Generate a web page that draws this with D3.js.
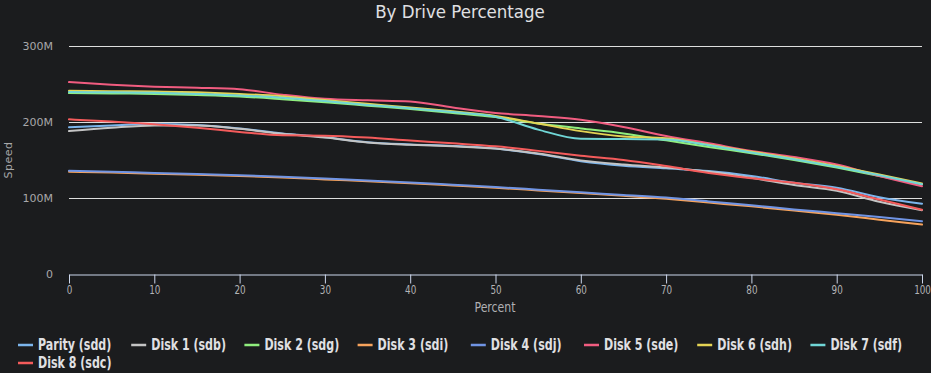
<!DOCTYPE html>
<html>
<head>
<meta charset="utf-8">
<script src="https://cdn.jsdelivr.net/npm/d3@7"></script>
<style>
  html, body { margin: 0; padding: 0; background: #1b1c1e; }
  svg { display: block; }
  .cond { font-family: "Liberation Sans Narrow", "DejaVu Sans Condensed", "DejaVu Sans", sans-serif; font-stretch: condensed; }
</style>
</head>
<body>
<svg id="chart" width="931" height="373"></svg>
<script>
// ---- data ----
const percents = [0, 5, 10, 15, 20, 25, 30, 35, 40, 45, 50, 55, 60, 65, 70, 75, 80, 85, 90, 95, 100];
const yTicks = [0, 100e6, 200e6, 300e6];
const yTickLabels = ["0", "100M", "200M", "300M"];
const xTicks = [0, 10, 20, 30, 40, 50, 60, 70, 80, 90, 100];

const seriesNames = ["Parity (sdd)", "Disk 1 (sdb)", "Disk 2 (sdg)", "Disk 3 (sdi)", "Disk 4 (sdj)", "Disk 5 (sde)", "Disk 6 (sdh)", "Disk 7 (sdf)", "Disk 8 (sdc)"];
const seriesColors = ["#7cb5ec", "#c4c4c4", "#90ee7e", "#f7a35c", "#7094e4", "#f15c80", "#e4d354", "#70d6d6", "#f45b5b"];

// values in MB/s (millions)
const parity = [193, 195.5, 197.3, 196, 191.5, 185, 180, 173.5, 170.5, 168.5, 165, 158, 148.5, 142.5, 139, 135.5, 129, 120, 113.5, 101, 92.5];
const disk1  = [188, 192.5, 195.5, 195.5, 191, 184.5, 179.5, 173, 170, 168, 165, 158.5, 149.5, 144, 140, 134.5, 126.5, 117, 109.5, 95, 84];
const disk2  = [238, 237.5, 237, 235.5, 233.5, 230, 226, 221.5, 217, 212, 206.5, 198, 191.5, 185, 176, 167, 159, 150, 140, 129, 118];
const disk3  = [134.5, 133.5, 132, 130.5, 129, 127, 124.5, 122, 119.5, 116.5, 113.5, 110, 106.5, 103, 99, 94, 89, 83.5, 78, 71.5, 65];
const disk4  = [136, 134.5, 133, 131.5, 130, 128, 125.5, 123, 120.5, 117.5, 114.5, 111, 107.5, 104, 100.5, 95.5, 90.5, 85, 80, 75, 69.5];
const disk5  = [252.5, 249, 246.5, 245, 243, 236, 230.5, 228.5, 227, 219, 212, 208, 203, 193.5, 181.5, 172, 162, 154, 144, 129, 115.5];
const disk6  = [241, 240.5, 240, 239, 237, 234, 229, 224, 219, 214, 208, 198, 188, 181, 178.5, 170, 161, 152, 142, 131, 119];
const disk7  = [239.5, 239, 238.5, 237, 235, 232, 227.5, 222.5, 218, 213, 207, 190, 178, 177.5, 177, 169.5, 160, 151, 141, 130, 118];
const disk8  = [203.5, 200.5, 197, 192.5, 187, 182.5, 182, 179.5, 175.5, 172, 168, 162, 155.5, 150, 142, 133, 126, 120, 111.5, 98, 84.5];

const seriesValues = [parity, disk1, disk2, disk3, disk4, disk5, disk6, disk7, disk8];

// ---- chart ----
const svg = d3.select("#chart");
const W = 931, H = 373;
const plot = { left: 69, right: 922, top: 46, bottom: 274 };

svg.append("rect").attr("width", W).attr("height", H).attr("fill", "#1b1c1e");

const x = d3.scaleLinear().domain([0, 100]).range([plot.left, plot.right]);
const y = d3.scaleLinear().domain([0, 300e6]).range([plot.bottom, plot.top]);

// title
svg.append("text")
  .attr("class", "cond")
  .attr("x", 460).attr("y", 18)
  .attr("text-anchor", "middle")
  .attr("fill", "#e0e0e3")
  .style("font-size", "18.5px")
  .text("By Drive Percentage");

// grid lines
svg.append("g")
  .selectAll("line")
  .data(yTicks.filter(d => d > 0))
  .join("line")
  .attr("x1", plot.left).attr("x2", plot.right)
  .attr("y1", d => Math.round(y(d)) + 0.5).attr("y2", d => Math.round(y(d)) + 0.5)
  .attr("stroke", "#dedede").attr("stroke-width", 1);

// y axis labels
const yAxis = d3.axisLeft(y).tickValues(yTicks).tickSize(0).tickPadding(16)
  .tickFormat((d, i) => yTickLabels[i]);
const gy = svg.append("g").attr("transform", `translate(${plot.left},0)`).call(yAxis);
gy.select(".domain").remove();
gy.selectAll("text")
  .attr("fill", "#a8a8aa")
  .style("font-family", "'DejaVu Sans', sans-serif")
  .style("font-size", "11px");

svg.append("text")
  .attr("transform", "translate(12,160) rotate(-90)")
  .attr("text-anchor", "middle")
  .attr("fill", "#a8a8aa")
  .style("font-family", "'DejaVu Sans', sans-serif")
  .style("font-size", "11px")
  .style("letter-spacing", "0.5px")
  .text("Speed");

// x axis
const xAxis = d3.axisBottom(x).tickValues(xTicks).tickSize(9).tickSizeOuter(0).tickPadding(2);
const gx = svg.append("g").attr("transform", `translate(0,${plot.bottom + 0.5})`).call(xAxis);
gx.select(".domain").attr("stroke", "#ccd6eb");
gx.selectAll(".tick line").attr("stroke", "#ccd6eb");
gx.selectAll("text")
  .attr("class", "cond")
  .attr("fill", "#b4b4b6")
  .attr("transform", "scale(0.85,1)")
  .style("font-size", "11.5px");

svg.append("text")
  .attr("class", "cond")
  .attr("transform", `translate(${x(50) - 0.5},312) scale(0.9,1)`)
  .attr("text-anchor", "middle")
  .attr("fill", "#b0b0b3")
  .style("font-size", "13.5px")
  .text("Percent");

// series
const line = d3.line()
  .x((d, i) => x(percents[i]))
  .y(d => y(d * 1e6))
  .curve(d3.curveMonotoneX);

svg.append("g")
  .selectAll("path")
  .data(seriesValues)
  .join("path")
  .attr("d", d => line(d))
  .attr("fill", "none")
  .attr("stroke", (d, i) => seriesColors[i])
  .attr("stroke-width", 2)
  .attr("stroke-linejoin", "round")
  .attr("stroke-linecap", "round");

// legend
const itemW = 113.2;
const legend = svg.append("g");
seriesNames.forEach((name, i) => {
  const row = Math.floor(i / 8), col = i % 8;
  const lx = 18 + col * itemW;
  const ly = 345 + row * 18;
  const g = legend.append("g").attr("transform", `translate(${lx},${ly})`);
  g.append("line").attr("x1", 0).attr("x2", 15).attr("y1", 0).attr("y2", 0)
    .attr("stroke", seriesColors[i]).attr("stroke-width", 2.5);
  g.append("text")
    .attr("class", "cond")
    .attr("transform", "translate(20,5) scale(0.82,1)")
    .attr("fill", "#e0e0e3")
    .style("font-size", "15px")
    .style("font-weight", "bold")
    .text(name);
});
</script>
</body>
</html>
